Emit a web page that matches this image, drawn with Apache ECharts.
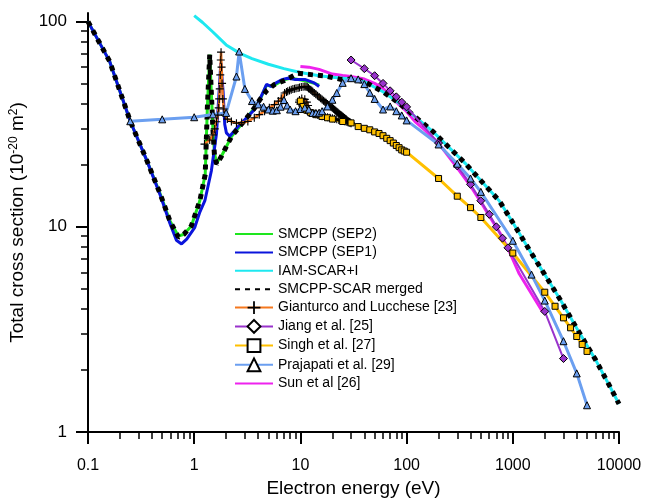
<!DOCTYPE html>
<html>
<head>
<meta charset="utf-8">
<script src="https://cdn.jsdelivr.net/npm/echarts@6/dist/echarts.min.js"></script>
<style>
  html, body { margin: 0; padding: 0; background: #fff; }
  #chart { width: 647px; height: 499px; }
</style>
</head>
<body>
<div id="chart"></div>
<script>
// energy (eV), total cross section (1e-20 m^2)
const sep2 = [[0.1,100],[0.16,64],[0.25,32.7],[0.36,20.9],[0.48,14.4],[0.59,10.7],[0.71,9.0],[0.8,9.2],[0.94,10.1],[1.13,13.4],[1.27,18],[1.33,38],[1.4,69],[1.45,45],[1.5,30],[1.55,23],[1.62,20.5],[1.8,22],[2,24.5],[2.25,27.6],[2.7,31],[3.2,34.5],[3.7,38],[4.2,42],[4.8,49],[5.3,48.5],[5.7,49],[6.3,50.5],[7,52],[8,53],[9,52.5],[11,51.5],[13.5,50],[15,49]];
const sep1 = [[0.1,100],[0.16,64],[0.25,32.7],[0.36,20.9],[0.48,14.2],[0.59,10.4],[0.68,8.6],[0.76,8.25],[0.85,8.7],[1.01,9.9],[1.13,11.8],[1.26,13.4],[1.45,18.7],[1.62,28.3],[1.74,51],[1.78,63],[1.87,45.7],[1.94,31.5],[2.01,28.7],[2.16,27.6],[2.59,30.8],[3.2,34.5],[3.7,37.3],[3.98,40],[4.5,45.8],[4.8,49.4],[5.3,48.3],[5.9,50.3],[6.8,52.3],[7.6,53],[8.8,52.3],[11,52.3],[13.5,50.3],[15,48.3]];
const iamScar = [[1,107],[1.2,99],[1.5,89],[2,77],[2.7,70],[3.5,66],[5,62],[7,59],[10,56.5],[15,54.5],[20,53.5],[30,52.5],[40,51],[60,45.5],[85,40.1],[120,34.4],[176,29.2],[250,24.4],[363,20.2],[500,16.8],[745,13.4],[1000,10.5],[1480,7.5],[2000,5.85],[2830,4.37],[4000,3.2],[6040,2.24],[8000,1.71],[10000,1.37]];
const merged = [[0.1,100],[0.16,64],[0.25,32.7],[0.36,20.9],[0.48,14.4],[0.59,10.7],[0.71,8.9],[0.8,9.2],[0.94,10.1],[1.13,13.4],[1.27,18],[1.33,38],[1.4,69],[1.45,45],[1.5,30],[1.55,22.5],[1.63,20.2],[1.8,22],[2,24.5],[2.25,27.6],[2.7,31],[3.2,34.5],[3.7,38],[4.2,42],[4.8,46],[5.7,49.4],[7,51.5],[9.5,56],[13.2,55],[17.6,54.2],[24,52.3],[30,52.5],[40,51],[60,45.5],[85,40.1],[120,34.4],[176,29.2],[250,24.4],[363,20.2],[500,16.8],[745,13.4],[1000,10.5],[1480,7.5],[2000,5.85],[2830,4.37],[4000,3.2],[6040,2.24],[8000,1.71],[10000,1.37]];
const gianturco = [[1.25,25.3],[1.4,26.5],[1.5,28],[1.56,30],[1.62,32.5],[1.67,35],[1.7,38],[1.72,42],[1.74,47],[1.76,55],[1.78,65],[1.79,71],[1.81,60],[1.83,50],[1.86,42],[1.9,37.5],[1.95,35],[2.05,33.5],[2.24,32.6],[2.5,32],[2.8,32.2],[3.2,32.6],[3.68,34],[4.1,35.2],[4.6,36.6],[5.1,38],[5.7,39.4],[6.2,41],[6.6,42.3],[7.1,44.9],[7.4,45.4],[7.6,45.8],[7.9,46.2],[8.2,46.6],[8.5,46.9],[8.8,47.1],[9.1,47.3],[9.5,47.5],[9.8,47.7],[10.2,48],[10.6,48.2],[11,48.3],[11.3,48.2],[11.6,48],[11.9,47.5],[12.1,47],[12.5,46.5],[12.8,46],[13.1,45.5],[13.5,44.9],[14,44.2],[14.5,43.5],[15,42.9],[15.5,42.3],[16,41.7],[16.5,41.2],[17,40.7],[17.5,40.2],[18,39.7],[18.5,39.2],[19,38.8],[19.5,38.4],[20,38],[20.5,37.6],[21,37.2],[21.5,36.8],[22,36.4],[22.5,36.1],[23,35.7],[23.5,35.4],[24,35.1],[24.5,34.8],[25,34.5],[25.5,34.2],[26,33.9],[26.5,33.6],[27,33.4],[27.5,33.1],[28,32.8],[28.5,32.6],[29,32.4],[29.5,32.2],[30,32],[29,32.2],[28,32.3],[27,32.5],[26,32.7],[25,32.8],[24,33],[23,33.2],[22,33.4],[21,33.6],[20,33.8],[19,34],[18,34.2],[17,34.4],[16,34.6],[15.5,34.8],[15,35],[14.5,35.2],[14,35.4],[13.5,35.6],[13,35.8],[12.5,36],[12,36.3],[11.6,36.7],[11.2,37.2],[10.8,37.9],[10.5,38.7],[10,39.6],[9.7,40.5],[9.8,41.5],[10.3,42.2],[11,41.8],[11.5,40.5],[11.8,39]];
const jiang = [[30,65],[40,59],[50,54.5],[60,50],[70,46],[80,43],[90,40.5],[100,38.4],[200,25.6],[300,19.8],[400,16.1],[500,13.4],[600,11.5],[700,10],[800,8.8],[900,7.9],[2000,3.87],[3000,2.28]];
const singh = [[10,41],[10.6,38.6],[11.5,37],[12.5,36],[14,35.2],[16,34.5],[18,34],[20,33.5],[25,32.6],[30,32.1],[35,30.8],[40,30.2],[45,29.7],[50,29],[55,28.5],[60,27.8],[65,27],[70,26.3],[75,25.6],[80,24.9],[85,24.3],[90,23.7],[95,23.4],[100,23.1],[200,17.2],[300,14.1],[400,12.4],[500,11.1],[1000,7.45],[2000,4.8],[2500,4.1],[3000,3.6],[3500,3.22],[4000,2.92],[4500,2.67],[5000,2.47]];
const prajapati = [[0.25,32.7],[0.5,33.4],[1,34.2],[1.5,35.3],[2,35.9],[2.5,54],[2.65,71.5],[3,47],[3.5,41],[4,39.5],[4.5,38.5],[5,37.3],[5.5,36.8],[6,37],[6.5,38.5],[7,41.5],[7.5,39],[8,37.3],[9,36.6],[10,37.5],[11,38.1],[12,37.3],[13,35.9],[14,35.9],[15,36],[16,36.6],[18,38.6],[20,41.6],[22,44.9],[25,50.3],[30,53],[35,52.3],[40,49.6],[45,45],[50,42],[60,37.3],[70,38.6],[80,36.6],[90,34.9],[100,33],[200,25.2],[300,20.3],[400,17.2],[500,14.8],[1000,8.55],[1500,5.85],[2000,4.37],[3000,2.77],[4000,1.93],[5000,1.35]];
const sun = [[10,60.5],[12,60],[15,58.5],[20,55.5],[25,54.6],[30,54],[40,52.5],[50,50],[60,47.3],[70,44],[85,39.4],[100,36.5],[120,32.6],[150,29.5],[177,27],[200,25.5],[300,19.4],[400,15.8],[500,13.2],[600,11.3],[770,9.2],[925,7.6],[1150,5.9],[1880,3.9],[2000,3.87]];

const xTicks = [0.1, 1, 10, 100, 1000, 10000];
const xTickLabels = ['0.1', '1', '10', '100', '1000', '10000'];
const yTicks = [1, 10, 100];
const yTickLabels = ['1', '10', '100'];

const lg = Math.log10;
const toLog = pts => pts.map(p => [lg(p[0]), lg(p[1])]);
function minorTicks(d0, d1) {
    const out = [];
    for (let d = d0; d < d1; d++) {
        for (let k = 2; k <= 9; k++) out.push(lg(k * Math.pow(10, d)));
    }
    return out;
}
function labelOf(ticks, labels) {
    return v => {
        const i = ticks.findIndex(t => Math.abs(lg(t) - v) < 1e-6);
        return i < 0 ? '' : labels[i];
    };
}

const FONT = "'Liberation Sans', Arial, sans-serif";
const plus = 'path://M0,4.3H10V5.7H0Z M4.3,0H5.7V10H4.3Z';
const openMark = { color: '#fff', borderColor: '#000', borderWidth: 2 };
const noMark = { opacity: 0 };

const chart = echarts.init(document.getElementById('chart'));

const option = {
    animation: false,
    backgroundColor: '#fff',
    grid: { left: 88, right: 28, top: 13, bottom: 67, outerBoundsMode: 'none' },
    legend: {
        orient: 'vertical',
        left: 229,
        top: 222,
        itemWidth: 38,
        itemHeight: 16,
        itemGap: 4.4,
        selectedMode: false,
        textStyle: { fontFamily: FONT, fontSize: 14, color: '#000' },
        data: [
            { name: 'SMCPP (SEP2)', itemStyle: noMark },
            { name: 'SMCPP (SEP1)', itemStyle: noMark },
            { name: 'IAM-SCAR+I', itemStyle: noMark },
            { name: 'SMCPP-SCAR merged', itemStyle: noMark },
            { name: 'Gianturco and Lucchese [23]' },
            { name: 'Jiang et al. [25]', itemStyle: openMark },
            { name: 'Singh et al. [27]', itemStyle: openMark },
            { name: 'Prajapati et al. [29]', itemStyle: openMark },
            { name: 'Sun et al [26]', itemStyle: noMark }
        ]
    },
    xAxis: [
        {
            type: 'value', min: -1, max: 4, position: 'bottom',
            splitLine: { show: false },
            axisLine: { show: true, onZero: false, lineStyle: { color: '#000', width: 2 } },
            name: 'Electron energy (eV)',
            nameLocation: 'middle',
            nameGap: 47,
            nameTextStyle: { fontFamily: FONT, fontSize: 19, color: '#000' },
            axisTick: { show: true, length: 12, lineStyle: { color: '#000', width: 2 }, customValues: xTicks.map(lg) },
            axisLabel: { fontFamily: FONT, fontSize: 16, color: '#000', margin: 26,
                customValues: xTicks.map(lg), formatter: labelOf(xTicks, xTickLabels) }
        },
        {
            type: 'value', min: -1, max: 4, position: 'bottom',
            splitLine: { show: false },
            axisLine: { show: false, onZero: false },
            axisTick: { show: true, length: 7, lineStyle: { color: '#000', width: 1.5 }, customValues: minorTicks(-1, 4) },
            axisLabel: { show: false }
        }
    ],
    yAxis: [
        {
            type: 'value', min: 0, max: 2.042, position: 'left',
            splitLine: { show: false },
            axisLine: { show: true, onZero: false, lineStyle: { color: '#000', width: 2 } },
            name: '{t|Total cross section (10}{s|-20}{t| m}{s|2}{t|)}',
            nameLocation: 'middle',
            nameGap: 58,
            nameTextStyle: {
                fontFamily: FONT, color: '#000',
                rich: {
                    t: { fontFamily: FONT, fontSize: 19, lineHeight: 22, color: '#000' },
                    s: { fontFamily: FONT, fontSize: 12, lineHeight: 12, verticalAlign: 'top', color: '#000' }
                }
            },
            axisTick: { show: true, length: 12, lineStyle: { color: '#000', width: 2 }, customValues: yTicks.map(lg) },
            axisLabel: { fontFamily: FONT, fontSize: 17, color: '#000', margin: 21,
                customValues: yTicks.map(lg), formatter: labelOf(yTicks, yTickLabels) }
        },
        {
            type: 'value', min: 0, max: 2.042, position: 'left',
            splitLine: { show: false },
            axisLine: { show: false, onZero: false },
            axisTick: { show: true, length: 7, lineStyle: { color: '#000', width: 1.5 }, customValues: minorTicks(0, 2) },
            axisLabel: { show: false }
        }
    ],
    series: [
        {
            name: 'Sun et al [26]', type: 'line', data: toLog(sun), symbol: 'none', z: 1,
            lineStyle: { color: '#ee22ee', width: 3 }, itemStyle: { color: '#ee22ee' }
        },
        {
            name: 'SMCPP (SEP2)', type: 'line', data: toLog(sep2), symbol: 'none',
            lineStyle: { color: '#1ee61e', width: 3 }, itemStyle: { color: '#1ee61e' }
        },
        {
            name: 'SMCPP (SEP1)', type: 'line', data: toLog(sep1), symbol: 'none',
            lineStyle: { color: '#0a14dc', width: 3 }, itemStyle: { color: '#0a14dc' }
        },
        {
            name: 'IAM-SCAR+I', type: 'line', data: toLog(iamScar), symbol: 'none',
            lineStyle: { color: '#1ee8f0', width: 3 }, itemStyle: { color: '#1ee8f0' }
        },
        {
            name: 'SMCPP-SCAR merged', type: 'line', data: toLog(merged), symbol: 'none',
            lineStyle: { color: '#000', width: 5, type: [5, 5] }, itemStyle: { color: '#000' }
        },
        {
            name: 'Gianturco and Lucchese [23]', type: 'line', data: toLog(gianturco),
            symbol: plus, symbolSize: 8,
            lineStyle: { color: '#f5781e', width: 2.5 }, itemStyle: { color: '#000' }
        },
        {
            name: 'Jiang et al. [25]', type: 'line', data: toLog(jiang),
            symbol: 'diamond', symbolSize: 8,
            lineStyle: { color: '#9933cc', width: 2 },
            itemStyle: { color: '#9933cc', borderColor: '#000', borderWidth: 1 }
        },
        {
            name: 'Singh et al. [27]', type: 'line', data: toLog(singh),
            symbol: 'rect', symbolSize: 6,
            lineStyle: { color: '#ffc000', width: 3 },
            itemStyle: { color: '#ffc000', borderColor: '#000', borderWidth: 1 }
        },
        {
            name: 'Prajapati et al. [29]', type: 'line', data: toLog(prajapati),
            symbol: 'triangle', symbolSize: 7,
            lineStyle: { color: '#6b9ff0', width: 3 },
            itemStyle: { color: '#6b9ff0', borderColor: '#000', borderWidth: 1 }
        }
    ]
};

chart.setOption(option);
</script>
</body>
</html>
